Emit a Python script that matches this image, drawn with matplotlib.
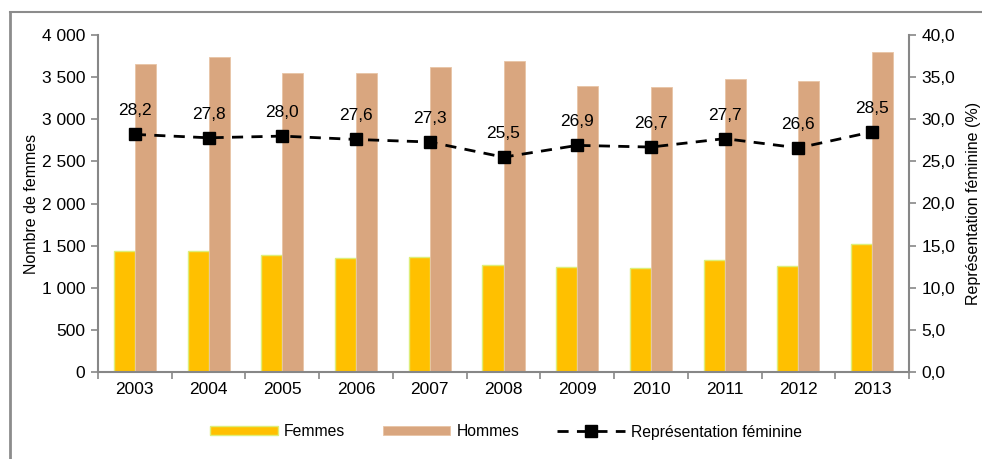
import matplotlib
matplotlib.use("Agg")
import matplotlib.pyplot as plt
from matplotlib.lines import Line2D
from matplotlib.ticker import FuncFormatter, MultipleLocator
import numpy as np

plt.rcParams['font.family'] = ['Liberation Sans', 'DejaVu Sans']

years = ['2003', '2004', '2005', '2006', '2007', '2008', '2009', '2010', '2011', '2012', '2013']
femmes = [1435, 1440, 1385, 1355, 1368, 1265, 1252, 1234, 1330, 1256, 1517]
hommes = [3660, 3734, 3544, 3544, 3620, 3690, 3390, 3386, 3478, 3454, 3798]
representation = [28.2, 27.8, 28.0, 27.6, 27.3, 25.5, 26.9, 26.7, 27.7, 26.6, 28.5]

W, H = 982, 459
fig = plt.figure(figsize=(W / 100, H / 100), dpi=100)
ax = fig.add_axes([98 / W, 1 - 372 / H, (909 - 98) / W, (372 - 35) / H])
ax2 = ax.twinx()

x = np.arange(len(years))
bw = 0.285
grey = '#878787'
ax.bar(x - bw / 2, femmes, bw, color='#FFC000', edgecolor='#DDEE7A', linewidth=1.0, label='Femmes', zorder=2)
ax.bar(x + bw / 2, hommes, bw, color='#D9A67F', edgecolor='#E8C4A6', linewidth=0.6, label='Hommes', zorder=2)

ax.set_xlim(-0.5, len(years) - 0.5)
ax.set_ylim(0, 4000)
ax.yaxis.set_major_locator(MultipleLocator(500))
ax.yaxis.set_major_formatter(FuncFormatter(lambda v, p: f"{int(v):,}".replace(',', ' ')))
ax.set_xticks(x)
ax.set_xticklabels(years)
ax.set_xticks(np.arange(-0.5, len(years)), minor=True)
ax.tick_params(axis='x', which='major', length=0, labelsize=12.5, pad=7)
ax.tick_params(axis='x', which='minor', length=5, color=grey, width=1.2, direction='out')
ax.tick_params(axis='y', length=5, color=grey, width=1.2, labelsize=12.5, direction='out', pad=4)

line, = ax2.plot(x, representation, color='black', linestyle=(0, (4, 3)), linewidth=2,
                 marker='s', markersize=9, markerfacecolor='black', markeredgecolor='black',
                 label='Représentation féminine', zorder=3)
for xi, v in zip(x, representation):
    ax2.annotate(f"{v:.1f}".replace('.', ','), (xi, v), xytext=(0, 17), textcoords='offset points',
                 ha='center', va='center', fontsize=12.5)
ax2.set_ylim(0, 40)
ax2.yaxis.set_major_locator(MultipleLocator(5))
ax2.yaxis.set_major_formatter(FuncFormatter(lambda v, p: f"{v:.1f}".replace('.', ',')))
ax2.tick_params(axis='y', length=5, color=grey, width=1.2, labelsize=12.5, direction='out', pad=4)

for a in (ax, ax2):
    a.spines['top'].set_visible(False)
    for s in ('left', 'right', 'bottom'):
        a.spines[s].set_color(grey)
        a.spines[s].set_linewidth(1.5)
ax.spines['right'].set_visible(False)
ax2.spines['left'].set_visible(False)
ax2.spines['bottom'].set_visible(False)

ax.set_ylabel('Nombre de femmes', fontsize=11.5, labelpad=2)
ax2.set_ylabel('Représentation féminine (%)', fontsize=11.5, labelpad=8)
ax.set_zorder(1)
ax2.set_zorder(2)
ax.patch.set_visible(False)

handles = [ax.containers[0].patches[0], ax.containers[1].patches[0], line]
fig.legend(handles, ['Femmes', 'Hommes', 'Représentation féminine'], loc='center',
           bbox_to_anchor=(506 / W, 1 - 432 / H), ncol=3, frameon=False, fontsize=11.3,
           handlelength=4.3, handleheight=0.5, columnspacing=2.4, handletextpad=0.4)

fig.add_artist(Line2D([10 / W, 10 / W], [0, 1 - 12 / H], color='#8c8c8c', linewidth=2, transform=fig.transFigure))
fig.add_artist(Line2D([10 / W, 1], [1 - 12 / H, 1 - 12 / H], color='#8c8c8c', linewidth=1.5, transform=fig.transFigure))

fig.savefig('out.png', dpi=100)
